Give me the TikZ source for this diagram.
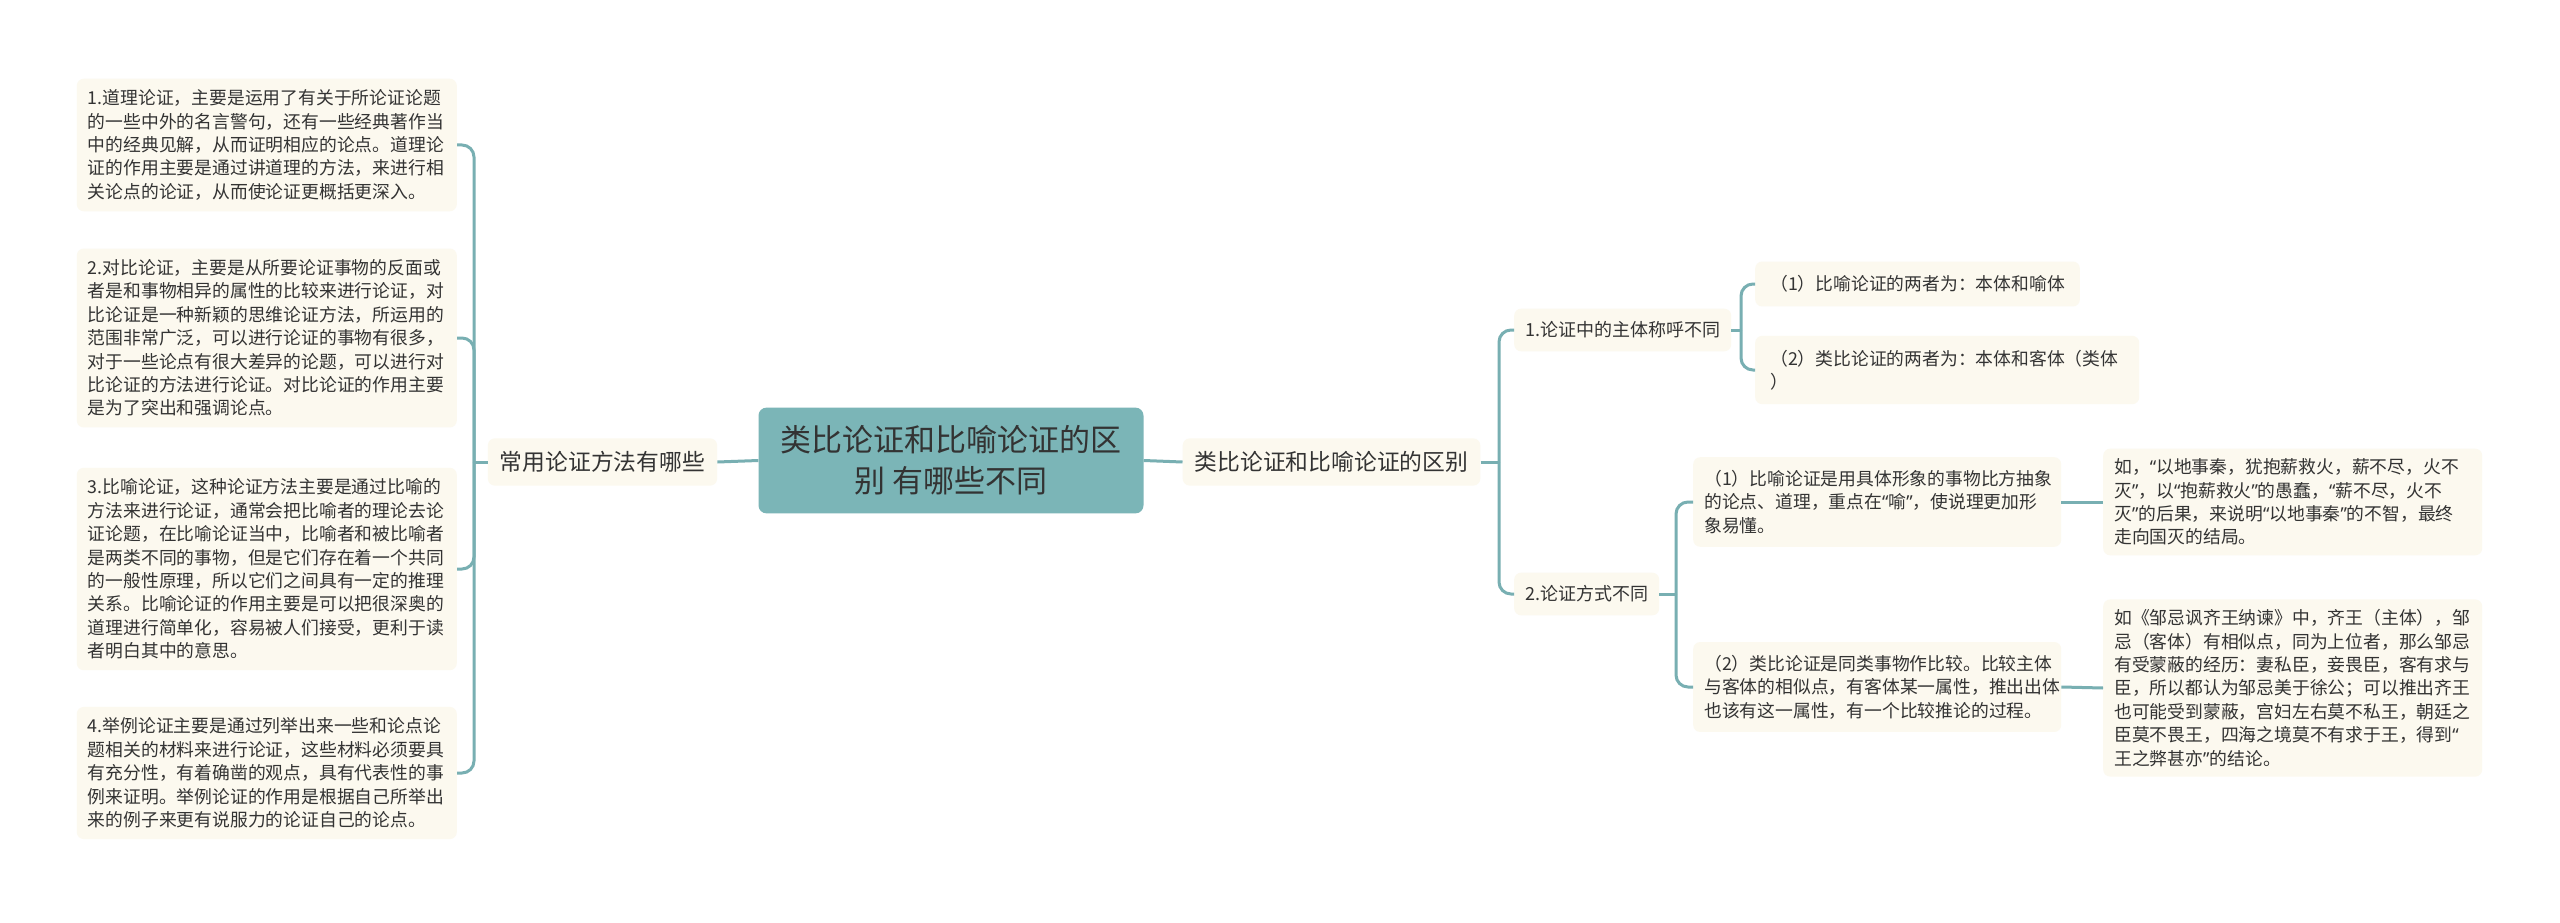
\documentclass[tikz,border=0pt]{standalone}
\usepackage{fontspec}
\setmainfont{Noto Sans CJK SC}
\newfontfamily\qfont{Noto Sans}
\newcommand\oqt{{\qfont “}}
\newcommand\cqt{{\qfont ”}}
\definecolor{linec}{HTML}{78AFB2}
\definecolor{cream}{HTML}{FCF9EF}
\definecolor{maincol}{HTML}{7BB5B7}
\definecolor{txt}{HTML}{333333}
\begin{document}
\begin{tikzpicture}[x=1pt,y=-1pt,
  leaf/.style={fill=cream, rounded corners=7pt, inner xsep=11pt, inner ysep=11pt, align=left, text=txt, font=\fontsize{17.8}{23.4}\selectfont},
  sub/.style={fill=cream, rounded corners=7pt, inner xsep=11pt, inner ysep=13pt, text=txt, font=\fontsize{18}{23.4}\selectfont},
  lvone/.style={fill=cream, rounded corners=7pt, inner xsep=12pt, inner ysep=13pt, text=txt, font=\fontsize{22.8}{28}\selectfont},
  centre/.style={fill=maincol, rounded corners=8pt, inner xsep=22pt, inner ysep=18pt, align=center, text=txt, font=\fontsize{31}{41}\selectfont},
  conn/.style={draw=linec, line width=3pt},
  elbow/.style={draw=linec, line width=3pt, rounded corners=12pt}
]
\useasboundingbox (0,0) rectangle (2560,923);
\fill[white] (0,0) rectangle (2560,923);

% centre
\node[centre] (C) at (951,460.5) {类比论证和比喻论证的区\\别 有哪些不同};

% level one
\node[lvone] (L) at (602.5,462) {常用论证方法有哪些};
\node[lvone] (R) at (1331.5,462) {类比论证和比喻论证的区别};

% left leaves
\node[leaf, text width=358pt, anchor=east] (l1) at (457,145) {1.道理论证，主要是运用了有关于所论证论题\\的一些中外的名言警句，还有一些经典著作当\\中的经典见解，从而证明相应的论点。道理论\\证的作用主要是通过讲道理的方法，来进行相\\关论点的论证，从而使论证更概括更深入。};
\node[leaf, text width=358pt, anchor=east] (l2) at (457,338) {2.对比论证，主要是从所要论证事物的反面或\\者是和事物相异的属性的比较来进行论证，对\\比论证是一种新颖的思维论证方法，所运用的\\范围非常广泛，可以进行论证的事物有很多，\\对于一些论点有很大差异的论题，可以进行对\\比论证的方法进行论证。对比论证的作用主要\\是为了突出和强调论点。};
\node[leaf, text width=358pt, anchor=east] (l3) at (457,569) {3.比喻论证，这种论证方法主要是通过比喻的\\方法来进行论证，通常会把比喻者的理论去论\\证论题，在比喻论证当中，比喻者和被比喻者\\是两类不同的事物，但是它们存在着一个共同\\的一般性原理，所以它们之间具有一定的推理\\关系。比喻论证的作用主要是可以把很深奥的\\道理进行简单化，容易被人们接受，更利于读\\者明白其中的意思。};
\node[leaf, text width=358pt, anchor=east] (l4) at (457,773) {4.举例论证主要是通过列举出来一些和论点论\\题相关的材料来进行论证，这些材料必须要具\\有充分性，有着确凿的观点，具有代表性的事\\例来证明。举例论证的作用是根据自己所举出\\来的例子来更有说服力的论证自己的论点。};

% right level two
\node[sub, anchor=west] (n1) at (1514,330) {1.论证中的主体称呼不同};
\node[sub, anchor=west] (n2) at (1514,594) {2.论证方式不同};

% children of n1
\node[leaf, inner xsep=15pt, inner ysep=14pt, anchor=west] (c11) at (1755,284) {（1）比喻论证的两者为：本体和喻体};
\node[leaf, inner xsep=15pt, inner ysep=14pt, text width=354pt, anchor=west] (c12) at (1755,370) {（2）类比论证的两者为：本体和客体（类体\\）};

% children of n2
\node[leaf, inner ysep=13pt, text width=346pt, anchor=west] (c21) at (1693,502) {（1）比喻论证是用具体形象的事物比方抽象\\的论点、道理，重点在\oqt 喻\cqt ，使说理更加形\\象易懂。};
\node[leaf, inner ysep=13pt, text width=346pt, anchor=west] (c22) at (1693,687) {（2）类比论证是同类事物作比较。比较主体\\与客体的相似点，有客体某一属性，推出出体\\也该有这一属性，有一个比较推论的过程。};

% grandchildren
\node[leaf, inner ysep=10pt, text width=357pt, anchor=west] (g1) at (2103,502) {如，\oqt 以地事秦，犹抱薪救火，薪不尽，火不\\灭\cqt ，以\oqt 抱薪救火\cqt 的愚蠢，\oqt 薪不尽，火不\\灭\cqt 的后果，来说明\oqt 以地事秦\cqt 的不智，最终\\走向国灭的结局。};
\node[leaf, inner ysep=10pt, text width=357pt, anchor=west] (g2) at (2103,688) {如《邹忌讽齐王纳谏》中，齐王（主体），邹\\忌（客体）有相似点，同为上位者，那么邹忌\\有受蒙蔽的经历：妻私臣，妾畏臣，客有求与\\臣，所以都认为邹忌美于徐公；可以推出齐王\\也可能受到蒙蔽，宫妇左右莫不私王，朝廷之\\臣莫不畏王，四海之境莫不有求于王，得到\oqt \\王之弊甚亦\cqt 的结论。};

% junction points
\coordinate (lt) at (474,462);
\coordinate (rt) at (1499,462);
\coordinate (n1t) at (1741,330);
\coordinate (n2t) at (1676,594);

% connectors
\draw[conn] (C.west) -- (L.east);
\draw[conn] (C.east) -- (R.west);
\draw[conn] (L.west) -- (lt);
\foreach \c in {l1,l2,l3,l4} \draw[elbow] (lt) |- (\c.east);
\draw[conn] (R.east) -- (rt);
\foreach \c in {n1,n2} \draw[elbow] (rt) |- (\c.west);
\draw[conn] (n1.east) -- (n1t);
\foreach \c in {c11,c12} \draw[elbow] (n1t) |- (\c.west);
\draw[conn] (n2.east) -- (n2t);
\foreach \c in {c21,c22} \draw[elbow] (n2t) |- (\c.west);
\draw[conn] (c21.east) -- (g1.west);
\draw[conn] (c22.east) -- (g2.west);
\end{tikzpicture}
\end{document}
